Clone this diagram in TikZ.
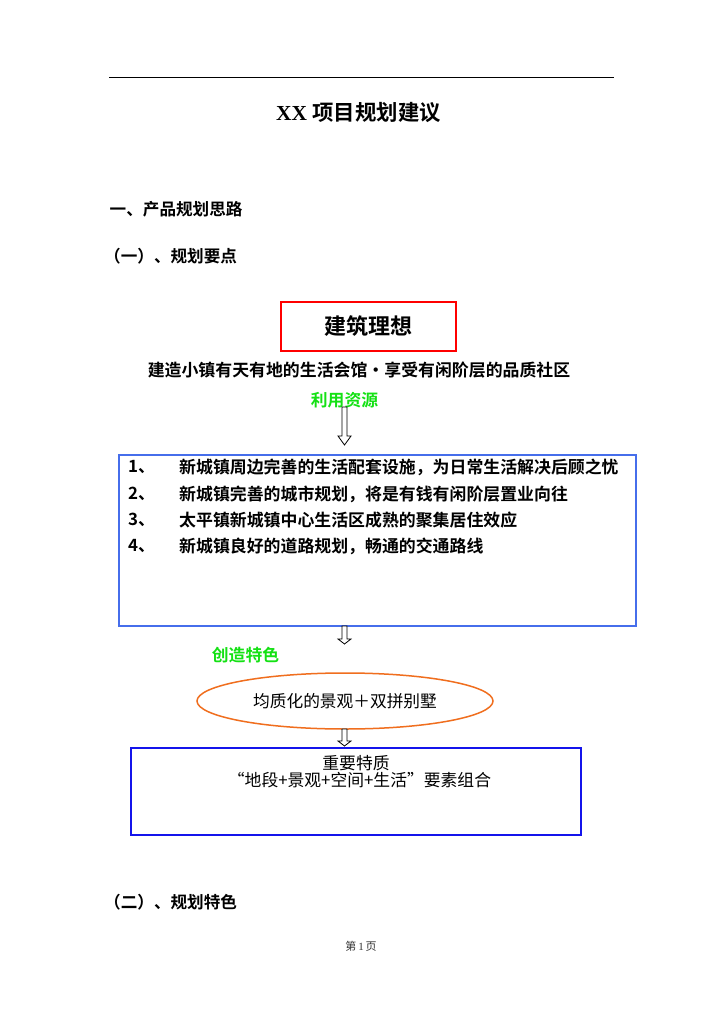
\documentclass[tikz,border=0pt]{standalone}
\usepackage{fontspec}
\setmainfont{Liberation Serif}
\newfontfamily\cjk{Noto Sans CJK SC}[BoldFont={Noto Sans CJK SC Bold}]
\usetikzlibrary{calc,shapes.geometric}
\definecolor{lightblue}{RGB}{70,110,235}
\definecolor{deepblue}{RGB}{20,20,235}
\definecolor{orangeline}{RGB}{240,110,30}
\definecolor{limegreen}{RGB}{20,225,20}
\tikzset{
 heading/.style={anchor=west,inner sep=0pt,font=\cjk\bfseries\fontsize{16.6}{18}\selectfont},
 bodybold/.style={anchor=west,inner sep=0pt,font=\cjk\bfseries\fontsize{16.9}{18}\selectfont},
 greenlabel/.style={inner sep=0pt,text=limegreen,font=\cjk\bfseries\fontsize{16.8}{18}\selectfont},
 plaintext/.style={inner sep=0pt,font=\cjk\fontsize{16.8}{18}\selectfont},
 hollowarrow/.style={draw=black,line width=0.8pt,fill=white,line join=miter},
}
\newcommand\harrow[3]{\draw[hollowarrow] ($(#1)+(-2.5,0)$) -- ($(#1)+(2.5,0)$) -- ($(#2)+(2.5,-#3)$) -- ($(#2)+(6.5,-#3)$) -- (#2) -- ($(#2)+(-6.5,-#3)$) -- ($(#2)+(-2.5,-#3)$) -- cycle;}
\begin{document}
\begin{tikzpicture}[x=1pt,y=-1pt]
\fill[white] (0,0) rectangle (724,1024);
\useasboundingbox (0,0) rectangle (724,1024);
\coordinate (ruleL) at (109,77.5);
\coordinate (ruleR) at (614,77.5);
\draw[line width=1.3pt] (ruleL) -- (ruleR);
\node[inner sep=0pt] (title) at (358.5,113) {\bfseries\fontsize{21.4}{24}\selectfont XX {\cjk 项目规划建议}};
\node[heading] (h1) at (109.5,209) {一、产品规划思路};
\node[heading] (h11) at (104,256) {（一）、规划要点};
\node[draw=red,line width=1.5pt,minimum width=175pt,minimum height=49pt,inner sep=0pt,font=\cjk\bfseries\fontsize{22}{24}\selectfont] (ideal) at (368.5,326.5) {建筑理想};
\node[inner sep=0pt,font=\cjk\bfseries\fontsize{16.9}{18}\selectfont] (slogan) at (359,370) {建造小镇有天有地的生活会馆・享受有闲阶层的品质社区};
\node[greenlabel] (res) at (344.5,400) {利用资源};
\node[draw=lightblue,line width=1.3pt,minimum width=517pt,minimum height=171pt,inner sep=0pt] (box1) at (377.5,540.5) {};
\node[bodybold] (n1) at (128,467) {1、};
\node[bodybold] (t1) at (179,467) {新城镇周边完善的生活配套设施，为日常生活解决后顾之忧};
\node[bodybold] (n2) at (128,494) {2、};
\node[bodybold] (t2) at (179,494) {新城镇完善的城市规划，将是有钱有闲阶层置业向往};
\node[bodybold] (n3) at (128,520) {3、};
\node[bodybold] (t3) at (179,520) {太平镇新城镇中心生活区成熟的聚集居住效应};
\node[bodybold] (n4) at (128,546) {4、};
\node[bodybold] (t4) at (179,546) {新城镇良好的道路规划，畅通的交通路线};
\coordinate (a1s) at (344.5,407);
\coordinate (a1e) at (344.5,445);
\harrow{a1s}{a1e}{9}
\coordinate (a2s) at (344.5,626);
\coordinate (a2e) at (344.5,644);
\harrow{a2s}{a2e}{5}
\node[greenlabel] (feat) at (245.5,655) {创造特色};
\node[ellipse,draw=orangeline,line width=1.5pt,minimum width=296pt,minimum height=56pt,inner sep=0pt,font=\cjk\fontsize{16.7}{18}\selectfont] (ell) at (345,701) {均质化的景观＋双拼别墅};
\coordinate (a3s) at (344.5,729);
\coordinate (a3e) at (344.5,746);
\harrow{a3s}{a3e}{5}
\node[draw=deepblue,line width=1.8pt,minimum width=450pt,minimum height=87pt,inner sep=0pt] (box2) at (356,791.5) {};
\node[plaintext] (q1) at (356,763) {重要特质};
\node[plaintext] (q2) at (359.5,780) {“地段+景观+空间+生活”要素组合};
\node[heading] (h12) at (104,902) {（二）、规划特色};
\node[inner sep=0pt,text=black!80] (page) at (361,946) {\fontsize{11}{13}\selectfont{\cjk 第}\,1\,{\cjk 页}};
\end{tikzpicture}
\end{document}
